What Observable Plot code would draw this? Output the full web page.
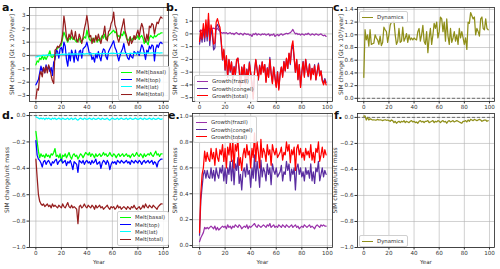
<!DOCTYPE html>
<html>
<head>
<meta charset="utf-8">
<script src="https://cdn.jsdelivr.net/npm/d3@7"></script>
<script src="https://cdn.jsdelivr.net/npm/@observablehq/plot@0.6"></script>
<style>
  body { margin: 0; background: #fff; }
  #fig { position: relative; width: 500px; height: 269px; overflow: hidden; font-family: "DejaVu Sans", sans-serif; }
  #fig svg { position: absolute; left: 0; top: 0; }
  .tag { position: absolute; font-weight: bold; font-size: 11px; line-height: 1; color: #111; }
  .legend { position: absolute; box-sizing: border-box; background: rgba(255,255,255,0.85); border: 0.8px solid #d0d0d0; border-radius: 2px; padding: 1.5px 3px 1.5px 2px; font-size: 5.4px; color: #333; }
  .legend .row { display: flex; align-items: center; height: 7.4px; white-space: nowrap; }
  .legend .sw { width: 11px; height: 0; border-top: 1.3px solid; margin-right: 4px; }
</style>
</head>
<body>
<div id="fig"></div>
<script>
const years = d3.range(0, 100);

// Panel a: melt rates [Gt x 10^3 / year]
const meltBasal = [
  -0.7, -0.4, -0.5, -0.2, -0.3, 0.0, -0.3, -0.1, -0.3, -0.1,
  0.1, 0.35, -0.1, -0.15, 0.0, -0.1, 0.3, 0.6, 0.6, 0.7,
  0.8, 1.3, 1.75, 1.5, 1.2, 1.0, 1.3, 1.2, 1.4, 1.2,
  1.3, 1.1, 1.0, 1.2, 1.3, 1.0, 1.1, 1.2, 1.4, 1.3,
  1.9, 1.5, 1.2, 1.1, 1.3, 1.0, 1.2, 1.4, 1.0, 1.2,
  1.1, 1.3, 1.5, 1.3, 1.6, 1.2, 1.4, 1.5, 1.6, 1.7,
  1.8, 1.9, 1.7, 1.8, 1.4, 1.5, 1.3, 1.6, 1.5, 1.8,
  1.6, 1.3, 1.1, 1.2, 1.4, 1.1, 1.3, 1.2, 1.4, 1.3,
  1.5, 1.2, 1.4, 1.5, 1.3, 0.9, 1.2, 1.0, 0.8, 1.3,
  1.5, 1.4, 1.3, 1.5, 1.4, 1.5, 1.6, 1.6, 1.7, 1.7
];
const meltTop = [
  -2.2, -2.0, -1.8, -1.3, -0.8, -1.2, -0.9, -1.3, -0.7, -1.1,
  -0.8, -1.2, -0.9, -1.5, -0.5, -0.3, 0.4, 0.3, -0.2, 0.5,
  0.6, 0.2, 1.0, 0.7, -0.3, -0.8, 0.2, -0.4, 0.4, 0.1,
  -0.5, 0.4, -0.2, -0.4, 0.3, 0.4, -0.2, 0.5, 0.6, 0.7,
  1.0, 0.6, 0.1, 0.2, -0.3, -0.1, -0.5, 0.1, -0.2, 0.3,
  -0.1, -0.4, 0.2, 0.5, 0.4, -0.1, -0.3, 0.3, 0.5, 0.7,
  0.9, 1.1, 0.6, 0.4, 0.0, -0.4, 0.0, 0.3, 0.5, 0.9,
  0.3, 0.1, -0.2, -0.3, 0.1, -0.1, -0.2, 0.3, 0.2, 0.1,
  0.3, 0.0, 0.4, 0.8, 0.6, 0.2, -0.3, 0.4, 0.2, 0.7,
  0.5, 0.8, 0.7, -0.4, 0.5, 0.8, 0.6, 0.9, 1.0, 0.9
];
const meltLat = [
  -0.1, -0.08, -0.05, -0.03, -0.02, 0.0, 0.02, 0.0, 0.03, 0.02,
  0.04, 0.03, 0.05, 0.04, 0.06, 0.05, 0.07, 0.06, 0.08, 0.07,
  0.08, 0.1, 0.09, 0.11, 0.1, 0.09, 0.12, 0.1, 0.11, 0.12,
  0.1, 0.13, 0.11, 0.12, 0.1, 0.13, 0.12, 0.14, 0.11, 0.13,
  0.15, 0.12, 0.13, 0.14, 0.12, 0.15, 0.13, 0.14, 0.16, 0.13,
  0.14, 0.15, 0.13, 0.16, 0.14, 0.15, 0.13, 0.16, 0.15, 0.17,
  0.16, 0.18, 0.15, 0.16, 0.14, 0.15, 0.17, 0.16, 0.18, 0.17,
  0.15, 0.16, 0.14, 0.15, 0.17, 0.16, 0.15, 0.17, 0.16, 0.18,
  0.17, 0.15, 0.18, 0.2, 0.17, 0.16, 0.18, 0.17, 0.19, 0.18,
  0.17, 0.19, 0.2, 0.18, 0.17, 0.19, 0.2, 0.18, 0.2, 0.19
];
const meltTotal = [
  -3.25, -2.5, -2.6, -1.5, -1.2, -1.6, -0.9, -1.3, -0.8, -1.3,
  -0.7, -1.0, -1.5, -1.9, -2.1, 0.4, 0.5, 0.7, 0.6, 0.8,
  1.0, 1.6, 2.95, 2.3, 1.4, 1.1, 1.6, 1.3, 1.9, 1.4,
  1.2, 1.8, 1.1, 1.0, 1.6, 1.3, 0.9, 1.4, 2.0, 2.4,
  3.0, 2.3, 1.4, 1.5, 0.9, 1.3, 1.0, 1.5, 1.1, 1.6,
  1.2, 0.9, 1.4, 1.6, 2.2, 1.3, 1.1, 1.8, 1.9, 2.4,
  2.6, 3.25, 2.3, 2.0, 1.3, 1.0, 1.4, 1.9, 2.3, 2.75,
  1.8, 1.5, 1.0, 0.75, 1.4, 0.9, 1.1, 1.5, 1.2, 1.6,
  1.9, 1.4, 2.0, 2.4, 2.1, 1.4, 1.0, 1.6, 1.1, 2.2,
  2.1, 2.4, 2.3, 1.6, 2.1, 2.5, 2.4, 2.7, 2.9, 2.8
];

// Panel b: growth rates [Gt x 10^3 / year]
const growthFrazil = [
  0.2, 0.3, 0.25, 0.35, 0.3, 0.4, 0.35, 0.45, 0.4, 0.35,
  0.4, 0.45, 0.4, 0.35, 0.45, 0.3, 0.2, 0.1, 0.05, 0.1,
  0.05, 0.1, 0.0, 0.05, 0.1, 0.0, 0.05, -0.05, 0.05, 0.1,
  0.0, -0.05, 0.05, 0.0, -0.1, 0.05, 0.0, -0.05, 0.0, -0.1,
  -0.05, -0.2, 0.0, -0.05, 0.05, -0.1, 0.0, -0.05, -0.1, 0.0,
  -0.05, 0.0, -0.1, -0.05, 0.0, -0.15, -0.05, -0.1, 0.0, -0.2,
  -0.1, -0.05, -0.15, -0.05, 0.0, -0.1, -0.05, 0.0, 0.05, 0.0,
  0.05, 0.1, 0.2, 0.35, 0.15, 0.0, 0.05, -0.05, 0.0, -0.1,
  0.0, -0.05, -0.1, 0.0, -0.05, 0.05, -0.05, -0.1, 0.0, -0.05,
  -0.1, 0.0, -0.05, -0.1, -0.05, 0.0, -0.1, -0.15, -0.1, -0.2
];
const growthCongel = [
  -0.8, 0.0, -0.65, 0.45, -0.6, 0.7, -0.55, 1.15, -0.9, 0.35,
  -0.1, -1.25, -1.1, 0.55, 0.75, 0.5, 0.3, -0.7, -2.05, -1.3,
  -2.85, -1.8, -3.4, -2.05, -3.0, -2.2, -3.55, -2.55, -3.25, -2.1,
  -1.9, -2.75, -4.15, -2.6, -3.2, -2.45, -3.9, -2.75, -3.5, -2.2,
  -3.05, -3.8, -5.1, -2.95, -2.05, -2.7, -3.6, -2.45, -3.1, -2.2,
  -2.95, -2.4, -3.7, -2.65, -3.4, -1.85, -3.05, -3.8, -2.6, -3.3,
  -4.1, -2.95, -4.25, -3.15, -2.6, -3.3, -2.15, -2.9, -1.95, -2.7,
  -1.55, -2.4, -1.2, -0.9, -1.95, -3.0, -2.05, -3.55, -2.4, -4.1,
  -3.0, -2.15, -3.3, -2.0, -2.75, -3.35, -2.35, -3.5, -2.7, -3.15,
  -2.4, -3.6, -2.95, -2.3, -3.25, -2.9, -3.6, -3.85, -3.5, -3.8
];
const growthTotal = [
  -0.6, 0.3, -0.4, 0.8, -0.3, 1.1, -0.2, 1.6, -0.5, 0.7,
  0.3, -0.8, -0.7, 0.9, 1.2, 0.8, 0.5, -0.6, -2.0, -1.2,
  -2.8, -1.7, -3.4, -2.0, -2.9, -2.2, -3.5, -2.6, -3.2, -2.0,
  -1.9, -2.8, -4.1, -2.6, -3.3, -2.4, -3.9, -2.8, -3.5, -2.3,
  -3.1, -4.0, -5.1, -3.0, -2.0, -2.8, -3.6, -2.5, -3.2, -2.2,
  -3.0, -2.4, -3.8, -2.7, -3.4, -2.0, -3.1, -3.9, -2.6, -3.5,
  -4.2, -3.0, -4.4, -3.2, -2.6, -3.4, -2.2, -2.9, -1.9, -2.7,
  -1.5, -2.3, -1.0, -0.55, -1.8, -3.0, -2.0, -3.6, -2.4, -4.2,
  -3.0, -2.2, -3.4, -2.0, -2.8, -3.3, -2.4, -3.6, -2.7, -3.2,
  -2.5, -3.6, -3.0, -2.4, -3.3, -2.9, -3.7, -4.0, -3.6, -4.0
];

// Panel c: dynamics [Gt x 10^3 / year]
const dynamics = [
  0.33, 1.08, 0.92, 1.0, 0.82, 1.08, 0.85, 0.86, 0.87, 1.0,
  0.95, 0.92, 0.85, 0.98, 0.83, 0.88, 1.12, 1.08, 1.05, 0.88,
  1.0, 1.15, 1.2, 1.2, 1.22, 1.0, 0.85, 0.9, 1.1, 0.88,
  0.9, 1.12, 0.9, 0.95, 1.02, 0.88, 1.0, 0.92, 0.95, 0.92,
  0.95, 0.93, 0.92, 1.05, 1.1, 0.9, 1.0, 1.15, 0.9, 0.85,
  1.05, 0.72, 0.95, 1.1, 0.85, 1.0, 1.18, 1.1, 1.2, 0.95,
  1.05, 1.28, 1.25, 1.05, 1.2, 0.9, 1.25, 0.98, 0.85, 1.1,
  0.88, 0.95, 1.05, 0.9, 1.0, 0.85, 1.1, 0.95, 1.05, 0.95,
  0.85, 0.95, 0.77, 1.2, 1.18, 1.35, 1.3, 1.25, 1.28, 1.0,
  1.1, 1.05, 0.98, 1.25, 1.28, 1.1, 1.08, 1.25, 1.1, 1.08
];

// Panel d: melt per unit mass
const meltBasalUnit = [
  -0.12, -0.2, -0.27, -0.32, -0.29, -0.31, -0.3, -0.32, -0.29, -0.31,
  -0.3, -0.32, -0.29, -0.3, -0.28, -0.25, -0.31, -0.3, -0.32, -0.29,
  -0.35, -0.3, -0.31, -0.29, -0.32, -0.3, -0.28, -0.31, -0.33, -0.3,
  -0.29, -0.31, -0.3, -0.33, -0.31, -0.29, -0.3, -0.32, -0.3, -0.28,
  -0.29, -0.3, -0.28, -0.31, -0.29, -0.3, -0.32, -0.29, -0.31, -0.3,
  -0.29, -0.31, -0.3, -0.28, -0.3, -0.29, -0.31, -0.3, -0.28, -0.3,
  -0.31, -0.29, -0.3, -0.32, -0.3, -0.29, -0.31, -0.3, -0.29, -0.31,
  -0.3, -0.29, -0.31, -0.3, -0.32, -0.3, -0.29, -0.31, -0.3, -0.28,
  -0.3, -0.31, -0.29, -0.3, -0.32, -0.29, -0.31, -0.3, -0.29, -0.3,
  -0.28, -0.3, -0.31, -0.29, -0.27, -0.3, -0.29, -0.31, -0.29, -0.29
];
const meltTopUnit = [
  -0.19, -0.3, -0.33, -0.34, -0.36, -0.39, -0.35, -0.34, -0.37, -0.35,
  -0.34, -0.36, -0.38, -0.35, -0.36, -0.34, -0.33, -0.37, -0.35, -0.34,
  -0.33, -0.36, -0.35, -0.34, -0.38, -0.35, -0.36, -0.34, -0.37, -0.41,
  -0.35, -0.36, -0.37, -0.43, -0.34, -0.35, -0.36, -0.34, -0.37, -0.35,
  -0.34, -0.36, -0.35, -0.37, -0.34, -0.36, -0.35, -0.33, -0.37, -0.36,
  -0.35, -0.4, -0.36, -0.34, -0.35, -0.37, -0.34, -0.36, -0.41, -0.37,
  -0.35, -0.36, -0.35, -0.37, -0.34, -0.35, -0.36, -0.34, -0.35, -0.36,
  -0.35, -0.34, -0.36, -0.35, -0.37, -0.34, -0.35, -0.36, -0.34, -0.35,
  -0.36, -0.34, -0.35, -0.37, -0.35, -0.34, -0.36, -0.35, -0.34, -0.36,
  -0.35, -0.34, -0.37, -0.35, -0.36, -0.39, -0.35, -0.34, -0.33, -0.33
];
const meltLatUnit = [
  -0.01, -0.015, -0.02, -0.025, -0.02, -0.025, -0.02, -0.03, -0.02, -0.025,
  -0.02, -0.025, -0.03, -0.02, -0.025, -0.02, -0.03, -0.025, -0.02, -0.025,
  -0.03, -0.02, -0.025, -0.03, -0.025, -0.02, -0.03, -0.025, -0.02, -0.03,
  -0.025, -0.02, -0.03, -0.035, -0.025, -0.02, -0.025, -0.03, -0.02, -0.025,
  -0.03, -0.025, -0.02, -0.025, -0.03, -0.02, -0.025, -0.03, -0.025, -0.02,
  -0.025, -0.03, -0.02, -0.025, -0.03, -0.025, -0.02, -0.03, -0.035, -0.025,
  -0.02, -0.025, -0.03, -0.025, -0.02, -0.03, -0.025, -0.02, -0.025, -0.03,
  -0.025, -0.02, -0.03, -0.025, -0.02, -0.025, -0.03, -0.025, -0.02, -0.025,
  -0.03, -0.025, -0.02, -0.025, -0.03, -0.02, -0.025, -0.03, -0.025, -0.02,
  -0.025, -0.03, -0.02, -0.025, -0.03, -0.025, -0.02, -0.025, -0.03, -0.025
];
const meltTotalUnit = [
  -0.33, -0.47, -0.6, -0.65, -0.67, -0.68, -0.67, -0.69, -0.68, -0.67,
  -0.69, -0.68, -0.7, -0.67, -0.69, -0.68, -0.69, -0.7, -0.68, -0.69,
  -0.7, -0.67, -0.69, -0.7, -0.68, -0.66, -0.69, -0.7, -0.68, -0.7,
  -0.69, -0.7, -0.71, -0.82, -0.69, -0.68, -0.7, -0.69, -0.67, -0.69,
  -0.7, -0.68, -0.69, -0.7, -0.68, -0.69, -0.71, -0.68, -0.7, -0.69,
  -0.68, -0.7, -0.69, -0.71, -0.7, -0.69, -0.68, -0.7, -0.71, -0.69,
  -0.7, -0.69, -0.71, -0.7, -0.68, -0.7, -0.69, -0.71, -0.7, -0.69,
  -0.7, -0.71, -0.69, -0.7, -0.71, -0.69, -0.7, -0.68, -0.7, -0.71,
  -0.7, -0.69, -0.71, -0.7, -0.68, -0.7, -0.67, -0.69, -0.7, -0.68,
  -0.69, -0.7, -0.68, -0.69, -0.7, -0.71, -0.69, -0.68, -0.67, -0.67
];

// Panel e: growth per unit mass
const growthFrazilUnit = [
  0.03, 0.06, 0.08, 0.1, 0.14, 0.13, 0.14, 0.13, 0.14, 0.15,
  0.14, 0.13, 0.15, 0.12, 0.14, 0.12, 0.13, 0.14, 0.15, 0.14,
  0.15, 0.13, 0.16, 0.14, 0.15, 0.13, 0.15, 0.14, 0.16, 0.15,
  0.14, 0.16, 0.15, 0.13, 0.14, 0.15, 0.14, 0.16, 0.13, 0.15,
  0.14, 0.15, 0.16, 0.17, 0.15, 0.14, 0.16, 0.15, 0.14, 0.15,
  0.16, 0.15, 0.14, 0.16, 0.15, 0.17, 0.14, 0.15, 0.16, 0.14,
  0.15, 0.14, 0.16, 0.15, 0.14, 0.16, 0.15, 0.14, 0.16, 0.15,
  0.14, 0.15, 0.16, 0.14, 0.15, 0.16, 0.14, 0.15, 0.13, 0.14,
  0.15, 0.14, 0.16, 0.15, 0.14, 0.15, 0.16, 0.14, 0.15, 0.14,
  0.13, 0.15, 0.16, 0.15, 0.14, 0.16, 0.15, 0.16, 0.15, 0.15
];
const growthCongelUnit = [
  0.08, 0.35, 0.45, 0.55, 0.58, 0.52, 0.58, 0.53, 0.52, 0.6,
  0.52, 0.58, 0.5, 0.6, 0.55, 0.52, 0.6, 0.56, 0.62, 0.5,
  0.6, 0.48, 0.6, 0.55, 0.65, 0.5, 0.66, 0.47, 0.63, 0.58,
  0.68, 0.48, 0.55, 0.43, 0.57, 0.6, 0.53, 0.63, 0.55, 0.58,
  0.45, 0.6, 0.52, 0.7, 0.5, 0.65, 0.57, 0.45, 0.66, 0.53,
  0.6, 0.57, 0.5, 0.63, 0.55, 0.6, 0.47, 0.63, 0.58, 0.55,
  0.6, 0.53, 0.55, 0.57, 0.62, 0.5, 0.57, 0.55, 0.65, 0.58,
  0.63, 0.5, 0.59, 0.55, 0.6, 0.43, 0.6, 0.63, 0.55, 0.6,
  0.53, 0.57, 0.5, 0.6, 0.55, 0.58, 0.52, 0.63, 0.5, 0.57,
  0.48, 0.6, 0.57, 0.65, 0.5, 0.55, 0.6, 0.53, 0.58, 0.55
];
const growthTotalUnit = [
  0.1, 0.4, 0.55, 0.6, 0.73, 0.65, 0.72, 0.67, 0.65, 0.75,
  0.67, 0.72, 0.62, 0.75, 0.68, 0.65, 0.74, 0.7, 0.78, 0.65,
  0.75, 0.6, 0.76, 0.7, 0.8, 0.65, 0.82, 0.6, 0.78, 0.73,
  0.83, 0.62, 0.68, 0.58, 0.7, 0.75, 0.68, 0.78, 0.7, 0.73,
  0.6, 0.75, 0.68, 0.87, 0.65, 0.8, 0.72, 0.6, 0.82, 0.68,
  0.75, 0.72, 0.65, 0.78, 0.7, 0.74, 0.62, 0.78, 0.73, 0.7,
  0.75, 0.68, 0.7, 0.72, 0.76, 0.66, 0.72, 0.7, 0.8, 0.73,
  0.78, 0.64, 0.74, 0.7, 0.76, 0.58, 0.75, 0.78, 0.7, 0.75,
  0.68, 0.72, 0.66, 0.75, 0.7, 0.73, 0.68, 0.78, 0.66, 0.72,
  0.64, 0.75, 0.72, 0.8, 0.65, 0.7, 0.76, 0.68, 0.74, 0.7
];

// Panel f: dynamics per unit mass
const dynamicsUnit = [
  0.01, 0.012, -0.02, 0.0, -0.02, -0.01, -0.015, -0.02, -0.018, -0.02,
  -0.02, -0.015, -0.02, -0.018, -0.02, -0.025, -0.02, -0.018, -0.022, -0.02,
  -0.025, -0.03, -0.02, -0.025, -0.04, -0.03, -0.045, -0.035, -0.03, -0.04,
  -0.03, -0.035, -0.025, -0.04, -0.03, -0.035, -0.04, -0.03, -0.025, -0.035,
  -0.03, -0.04, -0.035, -0.045, -0.03, -0.025, -0.035, -0.03, -0.04, -0.03,
  -0.03, -0.025, -0.04, -0.035, -0.03, -0.025, -0.04, -0.03, -0.035, -0.025,
  -0.03, -0.04, -0.03, -0.025, -0.035, -0.03, -0.045, -0.03, -0.025, -0.035,
  -0.03, -0.025, -0.035, -0.03, -0.025, -0.03, -0.035, -0.04, -0.045, -0.03,
  -0.03, -0.025, -0.035, -0.02, -0.03, -0.015, -0.02, -0.025, -0.015, -0.02,
  -0.025, -0.02, -0.015, -0.02, -0.03, -0.025, -0.02, -0.02, -0.03, -0.025
];

// Series names and colours
const meltNames = ["Melt(basal)", "Melt(top)", "Melt(lat)", "Melt(total)"];
const meltColors = ["#00ff00", "#0000ff", "#00ffff", "#961e1e"];
const growthNames = ["Growth(frazil)", "Growth(congel)", "Growth(total)"];
const growthColors = ["#9a32aa", "#5a2ca0", "#ff0000"];
const dynNames = ["Dynamics"];
const dynColors = ["#8f8f1a"];

const yearTicks = [0, 20, 40, 60, 80, 100];
const rateLabel = "SIM change [Gt x 10³/year]";
const unitLabel = "SIM change/unit mass";

const W = 500, H = 269;
const fig = document.getElementById("fig");

function panel(cfg) {
  const [l, t, r, b] = cfg.frame;
  const marks = [
    Plot.gridX(yearTicks, {stroke: "#b0b0b0", strokeOpacity: 0.6, strokeWidth: 1}),
    Plot.gridY(cfg.yTicks, {stroke: "#b0b0b0", strokeOpacity: 0.6, strokeWidth: 1})
  ];
  if (cfg.zero === "solid") marks.push(Plot.ruleY([0], {stroke: "#a0a0a0", strokeWidth: 1.6}));
  if (cfg.zero === "dashed") marks.push(Plot.ruleY([0], {stroke: "#555", strokeWidth: 0.8, strokeDasharray: "3,2"}));
  cfg.series.forEach((vals, i) => {
    marks.push(Plot.line(years.map((yr, k) => ({year: yr, value: vals[k]})),
      {x: "year", y: "value", stroke: cfg.colors[i], strokeWidth: 1.25}));
  });
  marks.push(Plot.frame({stroke: "#222", strokeWidth: 0.8}));
  marks.push(Plot.axisX(yearTicks, {tickSize: 2.5, tickPadding: 1.5, fontSize: 5.6,
    label: cfg.xLabel || null, labelAnchor: "center", labelArrow: "none", labelOffset: 16}));
  marks.push(Plot.axisY(cfg.yTicks, {tickSize: 2.5, tickPadding: 1.5, fontSize: 5.6, tickFormat: cfg.fmt, label: null}));
  // rotated y-axis title, centred on the frame's left edge
  marks.push(Plot.text([cfg.yLabel], {frameAnchor: "left", rotate: -90, dx: cfg.labelDx,
    text: (d) => d, fontSize: 6, fill: "#333", textAnchor: "middle", lineAnchor: "middle"}));
  const svg = Plot.plot({
    width: W, height: H,
    marginLeft: l, marginTop: t, marginRight: W - r, marginBottom: H - b,
    x: {domain: cfg.xDomain},
    y: {domain: cfg.yDomain},
    style: {background: "transparent", fontFamily: "DejaVu Sans, sans-serif", fontSize: "5.6px", color: "#333"},
    marks
  });
  fig.appendChild(svg);

  const tag = document.createElement("div");
  tag.className = "tag";
  tag.textContent = cfg.tag;
  tag.style.left = cfg.tagPos[0] + "px";
  tag.style.top = cfg.tagPos[1] + "px";
  fig.appendChild(tag);

  const lg = document.createElement("div");
  lg.className = "legend";
  lg.style.left = cfg.legend[0] + "px";
  lg.style.top = cfg.legend[1] + "px";
  cfg.names.forEach((name, i) => {
    const row = document.createElement("div");
    row.className = "row";
    const sw = document.createElement("span");
    sw.className = "sw";
    sw.style.borderTopColor = cfg.colors[i];
    const tx = document.createElement("span");
    tx.textContent = name;
    row.appendChild(sw);
    row.appendChild(tx);
    lg.appendChild(row);
  });
  fig.appendChild(lg);
}

const fmtInt = d3.format("d");
const fmt1 = d3.format(".1f");

panel({tag: "a.", tagPos: [2, 2], frame: [29, 7, 168, 101], xDomain: [-5, 104], yDomain: [-3.45, 3.6],
  yTicks: [-3, -2, -1, 0, 1, 2, 3], fmt: fmtInt, yLabel: rateLabel, labelDx: -17, zero: "solid",
  series: [meltBasal, meltTop, meltLat, meltTotal], names: meltNames, colors: meltColors, legend: [118, 66]});
panel({tag: "b.", tagPos: [166, 2], frame: [192, 7, 332, 101], xDomain: [-5.5, 104], yDomain: [-5.3, 2.07],
  yTicks: [-5, -4, -3, -2, -1, 0, 1], fmt: fmtInt, yLabel: rateLabel, labelDx: -17, zero: null,
  series: [growthFrazil, growthCongel, growthTotal], names: growthNames, colors: growthColors, legend: [194, 75]});
panel({tag: "c.", tagPos: [333, 2], frame: [357, 7, 494, 101], xDomain: [-5, 104], yDomain: [-0.05, 1.43],
  yTicks: [0, 0.2, 0.4, 0.6, 0.8, 1.0, 1.2, 1.4], fmt: fmt1, yLabel: rateLabel, labelDx: -16, zero: "dashed",
  series: [dynamics], names: dynNames, colors: dynColors, legend: [359, 11]});
panel({tag: "d.", tagPos: [2, 110], frame: [29, 112, 168, 247], xDomain: [-5, 104], yDomain: [-1.0, 0.023],
  yTicks: [-1.0, -0.8, -0.6, -0.4, -0.2, 0.0], fmt: fmt1, yLabel: unitLabel, labelDx: -22, zero: "dashed", xLabel: "Year",
  series: [meltBasalUnit, meltTopUnit, meltLatUnit, meltTotalUnit], names: meltNames, colors: meltColors, legend: [117, 211]});
panel({tag: "e.", tagPos: [168, 110], frame: [192, 113, 332, 247], xDomain: [-5.5, 104], yDomain: [-0.015, 1.02],
  yTicks: [0.0, 0.2, 0.4, 0.6, 0.8, 1.0], fmt: fmt1, yLabel: unitLabel, labelDx: -17, zero: null, xLabel: "Year",
  series: [growthFrazilUnit, growthCongelUnit, growthTotalUnit], names: growthNames, colors: growthColors, legend: [193, 116]});
panel({tag: "f.", tagPos: [334, 110], frame: [357, 113, 494, 247], xDomain: [-5, 104], yDomain: [-1.0, 0.03],
  yTicks: [-1.0, -0.8, -0.6, -0.4, -0.2, 0.0], fmt: fmt1, yLabel: unitLabel, labelDx: -22, zero: "dashed", xLabel: "Year",
  series: [dynamicsUnit], names: dynNames, colors: dynColors, legend: [359, 235]});
</script>
</body>
</html>
